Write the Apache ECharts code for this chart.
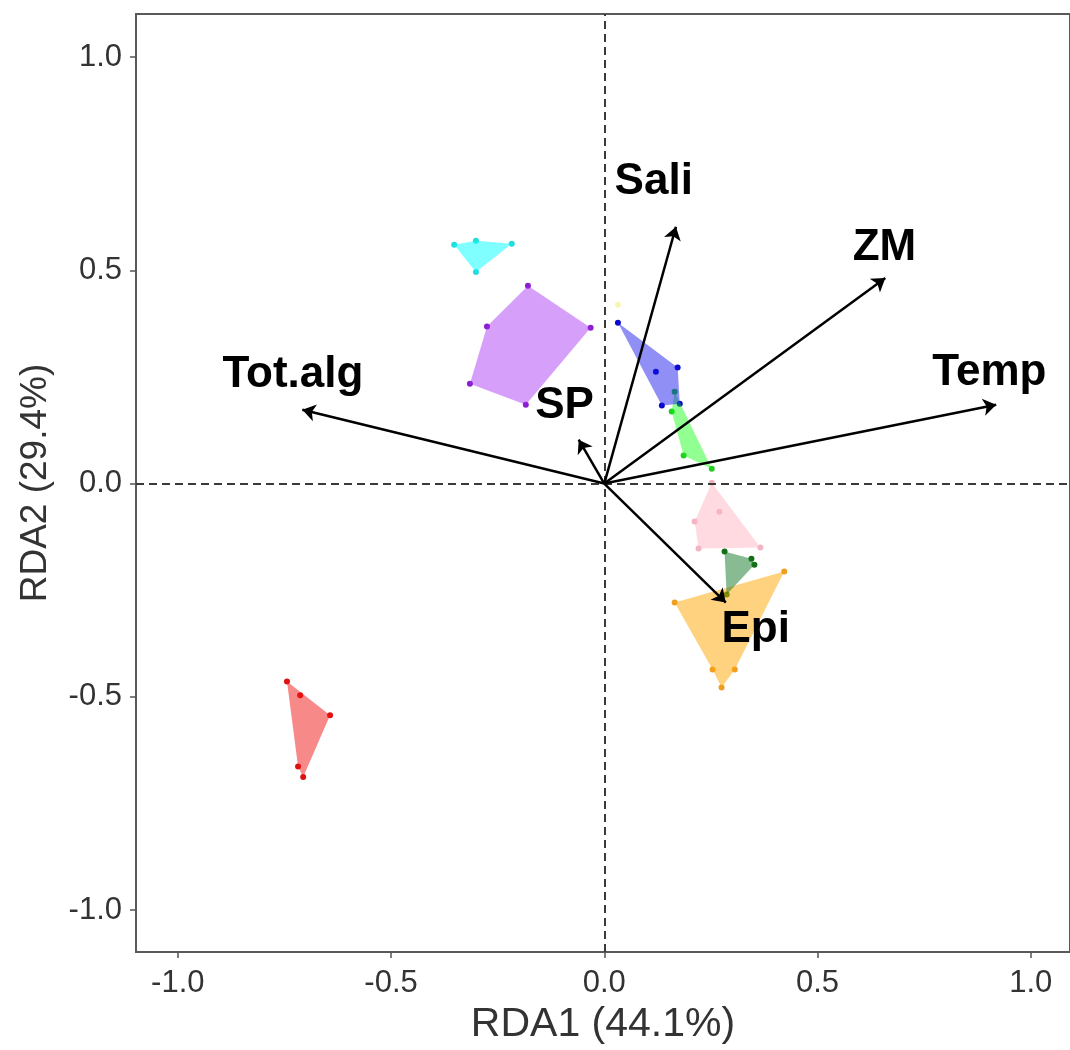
<!DOCTYPE html>
<html>
<head>
<meta charset="utf-8">
<script src="https://cdn.jsdelivr.net/npm/echarts@6/dist/echarts.min.js"></script>
<style>
html,body{margin:0;padding:0;background:#fff;}
#chart{width:1070px;height:1050px;}
</style>
</head>
<body>
<div id="chart"></div>
<script>
// ---- data ----
const tickValues = [-1.0, -0.5, 0.0, 0.5, 1.0];

const hullCyan    = [[-0.352,0.560],[-0.301,0.569],[-0.217,0.562],[-0.301,0.496]];
const hullPurple  = [[-0.179,0.464],[-0.032,0.365],[-0.184,0.185],[-0.315,0.234],[-0.275,0.368]];
const hullBlue    = [[0.032,0.377],[0.172,0.272],[0.177,0.187],[0.135,0.183]];
const innerBlue   = [[0.121,0.262]];
const hullGreen   = [[0.165,0.215],[0.252,0.035],[0.186,0.066],[0.158,0.169]];
const hullPink    = [[0.252,0.002],[0.366,-0.150],[0.221,-0.152],[0.212,-0.089]];
const innerPink   = [[0.270,-0.066]];
const hullDkGreen = [[0.282,-0.159],[0.345,-0.176],[0.352,-0.190],[0.287,-0.260]];
const hullOrange  = [[0.165,-0.279],[0.422,-0.206],[0.306,-0.436],[0.275,-0.478],[0.254,-0.436]];
const hullRed     = [[-0.744,-0.464],[-0.643,-0.543],[-0.706,-0.688],[-0.718,-0.663]];
const innerRed    = [[-0.713,-0.496]];
const yellowPts   = [[0.032,0.419]];

const arrowNames = ['Sali','ZM','Temp','Tot.alg','SP','Epi'];
const arrowX     = [0.168, 0.659, 0.919, -0.708, -0.060, 0.285];
const arrowY     = [0.602, 0.482, 0.185,  0.173,  0.103, -0.279];
const labelX     = [0.116, 0.657, 0.903, -0.730, -0.093, 0.355];
const labelY     = [0.707, 0.552, 0.260,  0.255,  0.183, -0.342];

// ---- styles ----
const groups = [
  {hull: hullCyan,    inner: [],        fill: 'rgba(0,255,255,0.5)',   pt: '#22DDDD'},
  {hull: hullPurple,  inner: [],        fill: 'rgba(160,32,240,0.43)', pt: '#8A1FD0'},
  {hull: hullGreen,   inner: [],        fill: 'rgba(0,255,0,0.43)',    pt: '#22CC22'},
  {hull: hullBlue,    inner: innerBlue, fill: 'rgba(20,20,235,0.48)',  pt: '#0A0ACC'},
  {hull: hullPink,    inner: innerPink, fill: 'rgba(255,182,193,0.5)', pt: '#F2B3C3'},
  {hull: hullOrange,  inner: [],        fill: 'rgba(255,165,0,0.5)',   pt: '#EE9E22'},
  {hull: hullDkGreen, inner: [],        fill: 'rgba(20,120,40,0.5)',   pt: '#127012'},
  {hull: hullRed,     inner: innerRed,  fill: 'rgba(240,20,20,0.5)',   pt: '#DD1111'}
];

const FONT = '"Liberation Sans", Arial, Helvetica, sans-serif';
const series = [];

// dashed zero lines
series.push({
  type: 'scatter', data: [], z: 1, silent: true,
  markLine: {
    silent: true, symbol: 'none', animation: false,
    label: {show: false},
    lineStyle: {type: [8, 5], color: '#3a3a3a', width: 2},
    data: [{xAxis: 0}, {yAxis: 0}]
  }
});

// points (under polygons)
groups.forEach(g => {
  series.push({
    type: 'scatter', z: 2, symbolSize: 6, silent: true,
    itemStyle: {color: g.pt, opacity: 1},
    data: g.hull.concat(g.inner)
  });
});
series.push({
  type: 'scatter', z: 2, symbolSize: 6, silent: true,
  itemStyle: {color: '#F8F2A0'},
  data: yellowPts
});

// hull polygons
groups.forEach(g => {
  series.push({
    type: 'custom', z: 3, silent: true,
    data: g.hull,
    renderItem: function (params, api) {
      if (params.dataIndex !== 0) return null;
      const pts = g.hull.map(p => api.coord(p));
      return {type: 'polygon', shape: {points: pts}, style: {fill: g.fill, stroke: 'none'}};
    }
  });
});

// arrows
series.push({
  type: 'lines', coordinateSystem: 'cartesian2d', z: 5, silent: true,
  symbol: ['none', 'arrow'], symbolSize: 13,
  lineStyle: {color: '#000', width: 2.5, opacity: 1, curveness: 0},
  data: arrowNames.map((n, i) => ({coords: [[0, 0], [arrowX[i], arrowY[i]]]}))
});

// arrow labels
series.push({
  type: 'custom', z: 6, silent: true,
  data: arrowNames.map((n, i) => [labelX[i], labelY[i]]),
  renderItem: function (params, api) {
    const c = api.coord([api.value(0), api.value(1)]);
    return {
      type: 'text', x: c[0], y: c[1],
      style: {
        text: arrowNames[params.dataIndex], fill: '#000',
        font: 'bold 44px ' + FONT, align: 'center', verticalAlign: 'middle'
      }
    };
  }
});

const axisCommon = {
  type: 'value',
  splitLine: {show: false},
  axisLine: {show: false, onZero: false},
  axisTick: {show: true, customValues: tickValues, length: 6, lineStyle: {color: '#555', width: 1.5}},
  axisLabel: {customValues: tickValues, formatter: v => v.toFixed(1), fontSize: 31, color: '#333', fontFamily: FONT}
};

const option = {
  animation: false,
  backgroundColor: '#fff',
  grid: {left: 136, right: -2, top: 14, bottom: 97, show: true, borderColor: '#595959', borderWidth: 2},
  xAxis: Object.assign({}, axisCommon, {
    min: -1.098, max: 1.092,
    axisLabel: Object.assign({}, axisCommon.axisLabel, {margin: 16}),
    name: 'RDA1 (44.1%)', nameLocation: 'middle', nameGap: 52,
    nameTextStyle: {fontSize: 41, color: '#333', fontFamily: FONT}
  }),
  yAxis: Object.assign({}, axisCommon, {
    min: -1.098, max: 1.1007,
    axisLabel: Object.assign({}, axisCommon.axisLabel, {margin: 14}),
    name: 'RDA2 (29.4%)', nameLocation: 'middle', nameGap: 82,
    nameTextStyle: {fontSize: 37, color: '#333', fontFamily: FONT}
  }),
  series: series
};

const chart = echarts.init(document.getElementById('chart'), null, {renderer: 'canvas'});
chart.setOption(option);
</script>
</body>
</html>
